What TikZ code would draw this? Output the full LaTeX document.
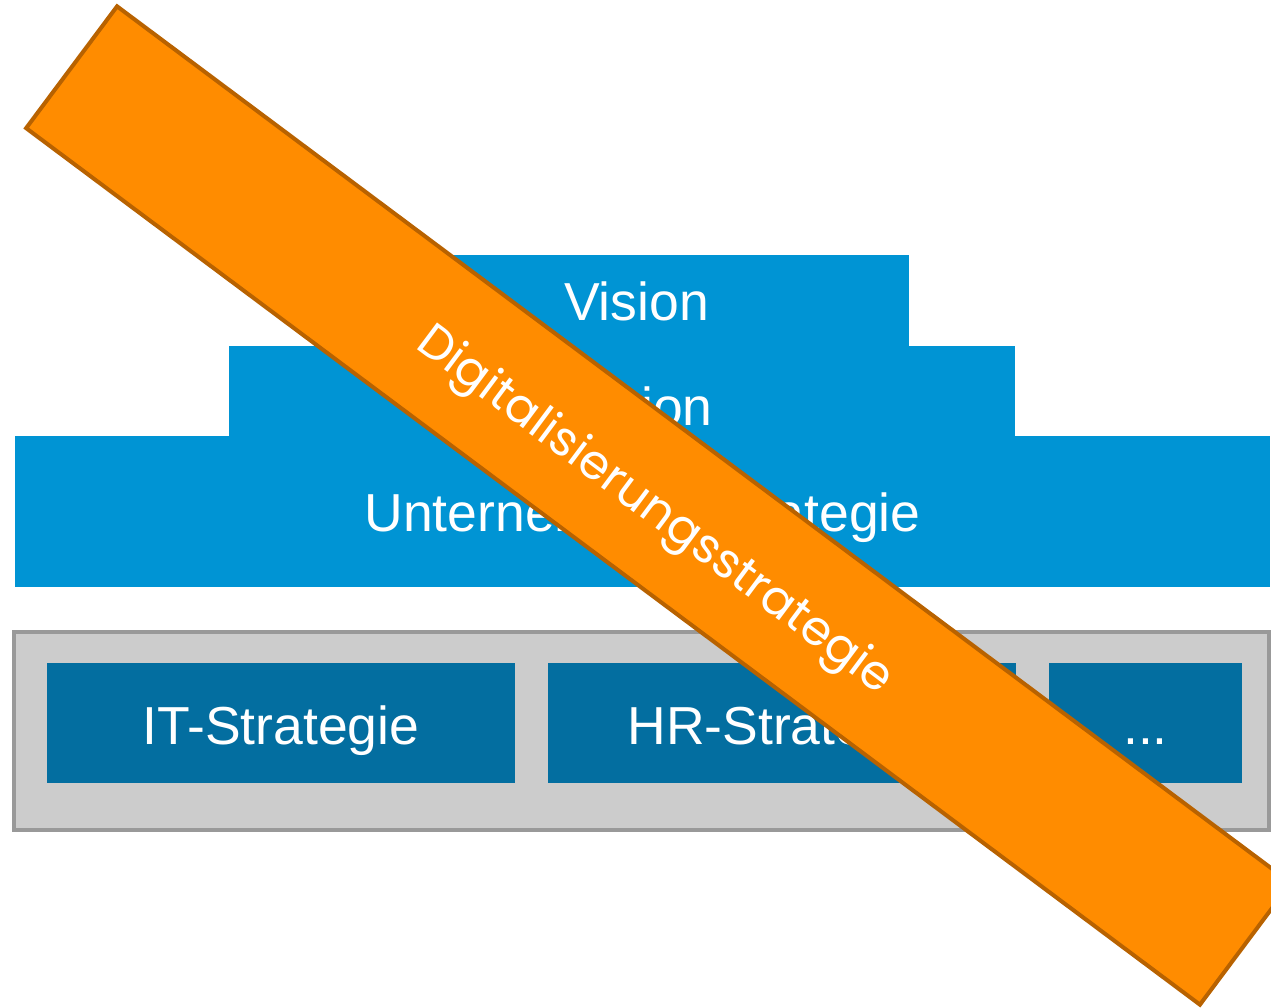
\documentclass[tikz,border=0pt]{standalone}
\usepackage{fontspec}
\setmainfont{Liberation Sans}
\newfontfamily\bandfont{Poppins}
\definecolor{lblue}{HTML}{0094D4}
\definecolor{dblue}{HTML}{036EA0}
\definecolor{gfill}{HTML}{CCCCCC}
\definecolor{gline}{HTML}{999999}
\definecolor{ofill}{HTML}{FF8C00}
\definecolor{oline}{HTML}{B86200}
\tikzset{
  lbox/.style={fill=lblue, draw=none, inner sep=0pt, outer sep=0pt},
  dbox/.style={fill=dblue, draw=none, inner sep=0pt, outer sep=0pt, minimum height=120},
  gbox/.style={fill=gfill, draw=gline, line width=4pt, inner sep=0pt},
  lbl/.style={text=white, anchor=base, inner sep=0pt, font=\fontsize{53.5}{62}\selectfont},
  bandbox/.style={fill=ofill, draw=oline, line width=4pt, inner sep=0pt},
  bandtext/.style={text=white, inner sep=0pt, font=\bandfont\fontsize{48}{56}\selectfont}
}
\begin{document}
\begin{tikzpicture}[x=1pt,y=-1pt]
\useasboundingbox (0,0) rectangle (1271,1008);
\clip (0,0) rectangle (1271,1008);
\fill[white] (0,0) rectangle (1271,1008);
% pyramid
\node[lbox, minimum width=545, minimum height=91] (vision) at (636.5,300.5) {};
\node[lbox, minimum width=786, minimum height=90.5] (mission) at (622,391) {};
\node[lbox, minimum width=1255, minimum height=151] (unt) at (642.5,511.5) {};
\node[lbl] (tv) at (636.5,320) {Vision};
\node[lbl] (tm) at (622,425) {Mission};
\node[lbl] (tu) at (642.5,531) {Unternehmensstrategie};
% lower block
\node[gbox, minimum width=1255, minimum height=198] (grey) at (641.5,731) {};
\node[dbox, minimum width=468] (it) at (281,723) {};
\node[dbox, minimum width=468] (hr) at (782,723) {};
\node[dbox, minimum width=193] (more) at (1145.5,723) {};
\node[lbl] (tit) at (281,744) {IT-Strategie};
\node[lbl] (thr) at (782,744) {HR-Strategie};
\node[lbl] (tmore) at (1145.5,744) {...};
% diagonal band
\node[bandbox, rotate=-36.75, minimum width=1465, minimum height=152] (band) at (658.5,505.5) {};
\node[bandtext, rotate=-36.75] (bandlbl) at (654,512) {Digitalisierungsstrategie};
\end{tikzpicture}
\end{document}
